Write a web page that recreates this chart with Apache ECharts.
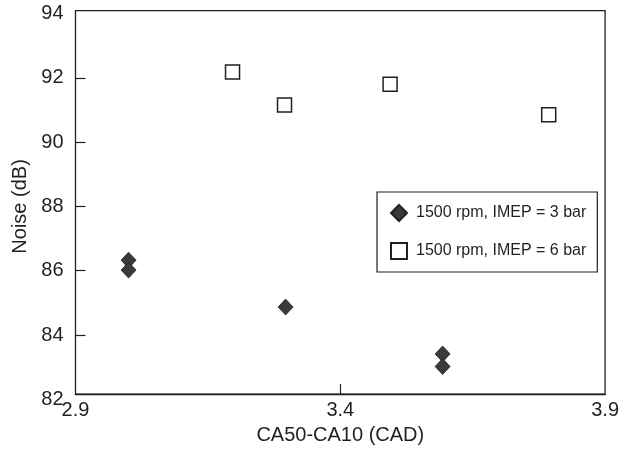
<!DOCTYPE html>
<html>
<head>
<meta charset="utf-8">
<script src="https://cdn.jsdelivr.net/npm/echarts@6/dist/echarts.min.js"></script>
<style>html,body{margin:0;padding:0;background:#fff}#c{width:622px;height:450px}</style>
</head>
<body>
<div id="c"></div>
<script>
const seriesNames = ['1500 rpm, IMEP = 3 bar', '1500 rpm, IMEP = 6 bar'];
const imep3X = [3.0, 3.0, 3.296, 3.592, 3.592];
const imep3Y = [86.33, 86.02, 84.87, 83.41, 83.02];
const imep6X = [3.196, 3.294, 3.493, 3.792];
const imep6Y = [92.18, 91.16, 91.80, 90.85];
const xTicks = [2.9, 3.4, 3.9];
const yTicks = [82, 84, 86, 88, 90, 92, 94];
const yInnerTicks = [84, 86, 88, 90, 92];

const FONT = 'Liberation Sans, Arial, Helvetica, sans-serif';
const INK = '#231f20';
const toPairs = (xs, ys) => xs.map((x, i) => [x, ys[i]]);

const chart = echarts.init(document.getElementById('c'), null, {renderer: 'canvas'});
chart.setOption({
  animation: false,
  backgroundColor: '#fff',
  grid: [
    {left: 75.5, right: 16, top: 13.6, bottom: 50.7, show: false},
    {left: 75.5, right: 16, top: 10.7, bottom: 55, show: true, borderColor: INK, borderWidth: 1.3, backgroundColor: 'transparent', z: 0}
  ],
  xAxis: [
    {
      gridIndex: 0, type: 'value', min: xTicks[0], max: xTicks[xTicks.length - 1], interval: 0.5,
      show: false
    },
    {
      gridIndex: 1, type: 'value', min: xTicks[0], max: xTicks[xTicks.length - 1], interval: 0.5,
      name: 'CA50-CA10 (CAD)', nameLocation: 'middle', nameGap: 25,
      nameTextStyle: {fontFamily: FONT, fontSize: 20, color: INK},
      axisLine: {lineStyle: {color: INK, width: 1.3}},
      axisTick: {inside: true, length: 10, lineStyle: {color: INK, width: 1.2}, customValues: [xTicks[1]]},
      axisLabel: {fontFamily: FONT, fontSize: 20, color: INK, margin: 6, formatter: v => v.toFixed(1)},
      splitLine: {show: false}
    }
  ],
  yAxis: [
    {
      gridIndex: 0, type: 'value', min: yTicks[0], max: yTicks[yTicks.length - 1], interval: 2,
      name: 'Noise (dB)', nameLocation: 'middle', nameGap: 43, nameRotate: 90,
      nameTextStyle: {fontFamily: FONT, fontSize: 20, color: INK},
      axisLine: {show: false},
      axisTick: {inside: true, length: 10, lineStyle: {color: INK, width: 1.2}, customValues: yInnerTicks},
      axisLabel: {fontFamily: FONT, fontSize: 20, color: INK, margin: 12},
      splitLine: {show: false}
    },
    {
      gridIndex: 1, type: 'value', min: yTicks[0], max: yTicks[yTicks.length - 1], interval: 2,
      show: false
    }
  ],
  legend: {
    orient: 'vertical', left: 377, top: 192,
    padding: [12, 11, 12, 13],
    itemGap: 20, itemWidth: 16, itemHeight: 16,
    borderColor: INK, borderWidth: 1.2, backgroundColor: '#fff',
    textStyle: {fontFamily: FONT, fontSize: 16, lineHeight: 16, color: INK, padding: [0, 0, 0, 4]},
    data: [
      {name: seriesNames[0], icon: 'diamond'},
      {name: seriesNames[1], icon: 'rect'}
    ]
  },
  series: [
    {
      name: seriesNames[0], type: 'scatter', xAxisIndex: 0, yAxisIndex: 0,
      symbol: 'diamond', symbolSize: [15, 16],
      itemStyle: {color: '#3a3a3a', borderColor: '#222', borderWidth: 0.8, opacity: 1},
      data: toPairs(imep3X, imep3Y), z: 3
    },
    {
      name: seriesNames[1], type: 'scatter', xAxisIndex: 0, yAxisIndex: 0,
      symbol: 'rect', symbolSize: [14, 14],
      itemStyle: {color: '#fff', borderColor: INK, borderWidth: 1.5, opacity: 1},
      data: toPairs(imep6X, imep6Y), z: 3
    }
  ]
});
</script>
</body>
</html>
